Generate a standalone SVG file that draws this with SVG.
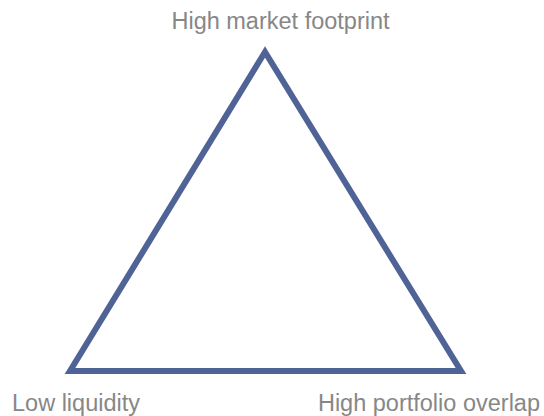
<svg xmlns="http://www.w3.org/2000/svg" width="544" height="416" viewBox="0 0 544 416">
<style>
.lbl{font-family:"Liberation Sans",Arial,sans-serif;font-size:23.5px;fill:#878787}
.tri{fill:none;stroke:#506396;stroke-width:6;stroke-linejoin:miter}
</style>
<rect width="544" height="416" fill="#ffffff"/>
<g id="connectors">
<polygon class="tri" points="265,52 70,371 461,371"/>
</g>
<g id="node-top"><text class="lbl" x="280.5" y="29" text-anchor="middle">High market footprint</text></g>
<g id="node-left"><text class="lbl" x="12" y="411">Low liquidity</text></g>
<g id="node-right"><text class="lbl" x="540" y="411" text-anchor="end">High portfolio overlap</text></g>
</svg>
